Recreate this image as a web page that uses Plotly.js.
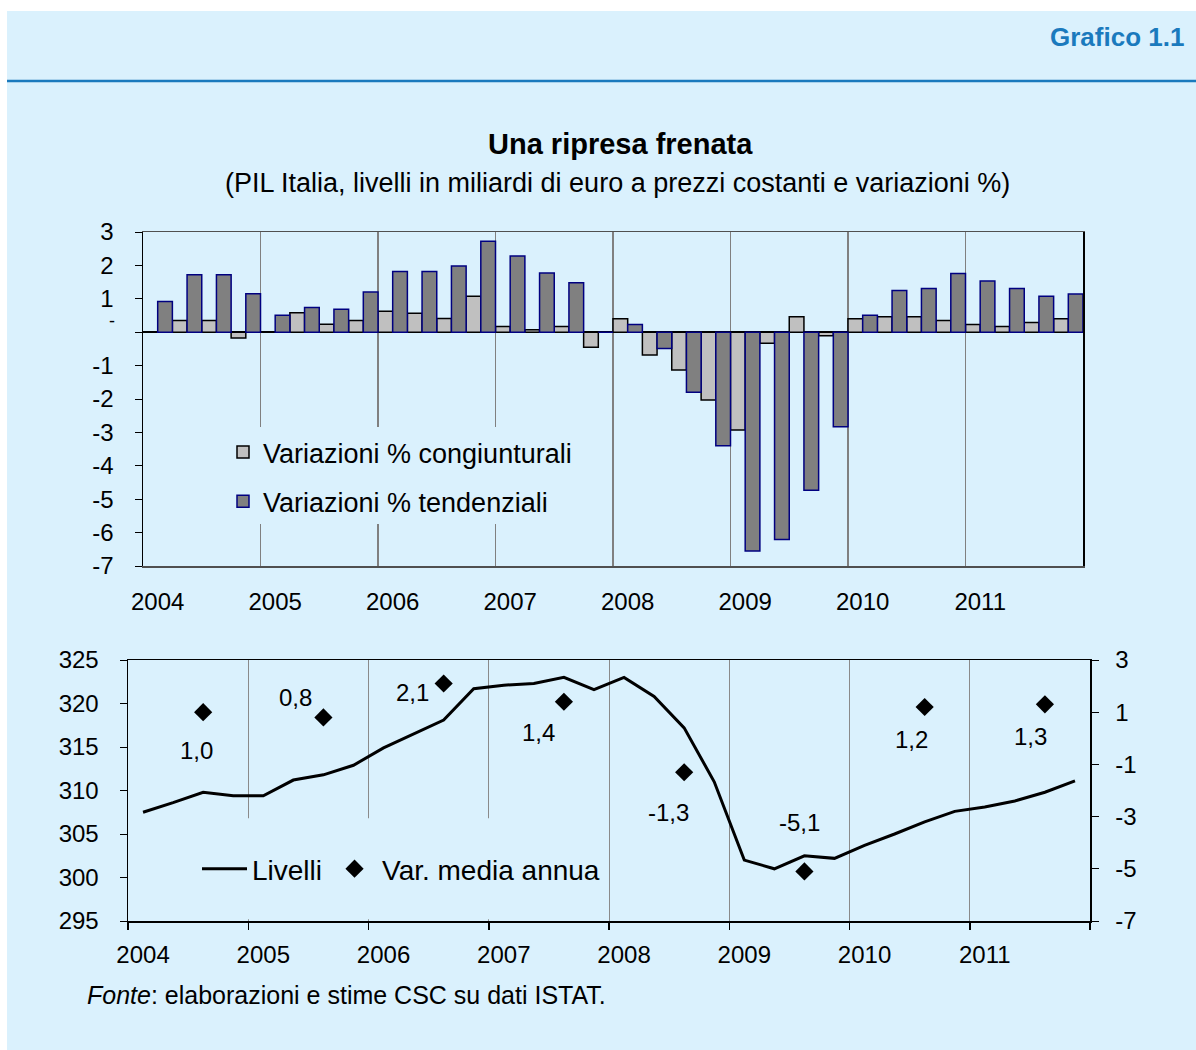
<!DOCTYPE html>
<html><head><meta charset="utf-8">
<script src="https://cdn.plot.ly/plotly-3.0.1.min.js"></script>
<style>
html,body{margin:0;padding:0;background:#ffffff;}
#bg{position:absolute;left:7px;top:11px;width:1189px;height:1039px;background:#daf1fd;}
#chart{position:absolute;left:0;top:0;width:1196px;height:1050px;}
</style></head><body>
<div id="bg"></div><div id="chart"></div>
<script>
// ---- data ----
const years = ['2004','2005','2006','2007','2008','2009','2010','2011'];
// quarterly % change on previous quarter (congiunturali)
const congiunturali = [null,0.35,0.35,-0.17, 0,0.58,0.24,0.35, 0.63,0.57,0.41,1.08, 0.17,0.07,0.17,-0.45,
                       0.40,-0.68,-1.13,-2.03, -2.93,-0.33,0.46,-0.11, 0.40,0.46,0.46,0.35, 0.23,0.17,0.29,0.40];
// quarterly % change on same quarter of previous year (tendenziali)
const tendenziali = [0.92,1.72,1.72,1.15, 0.51,0.74,0.69,1.20, 1.82,1.82,1.98,2.72, 2.28,1.77,1.48,0,
                     0.23,-0.49,-1.80,-3.40, -6.55,-6.21,-4.73,-2.83, 0.51,1.25,1.31,1.76, 1.53,1.31,1.08,1.14];
// GDP levels, billions of euro at constant prices
const livelli = [307.5,308.6,309.8,309.4, 309.4,311.2,311.8,312.9, 314.9,316.5,318.1,321.7, 322.1,322.3,323.0,321.6,
                 323.0,320.8,317.2,311.0, 302.0,301.0,302.5,302.2, 303.7,305.0,306.4,307.6, 308.1,308.8,309.8,311.1];
// annual average % change
const varMediaAnnua = [1.0,0.8,2.1,1.4,-1.3,-5.1,1.2,1.3];
const topTickVals = [3,2,1,0,-1,-2,-3,-4,-5,-6,-7];
const rightTickVals = [3,1,-1,-3,-5,-7];
const leftTickVals = [325,320,315,310,305,300,295];

// ---- helpers ----
const W = 1196, H = 1050;
const fx = p => p / W, fy = p => 1 - p / H;
const FONT = 'Liberation Sans, Arial, sans-serif';
const BG = '#daf1fd';
const Q = congiunturali.length;
const qIdx = congiunturali.map((_, i) => i);           // quarter slots
const yearStart = years.map((_, k) => k * 4);           // first quarter of each year
const yearBounds = years.map((_, k) => k * 4 - 0.5).concat([Q - 0.5]);
const q3Idx = years.map((_, k) => k * 4 + 2);           // annual average plotted at Q3
const fmt = v => v.toFixed(1).replace('.', ',');
const labelShift = [[-7,-38],[-28,20],[-31,-9],[-25,-31],[-16,-40],[-5,49],[-13,-33],[-14,-32]];

const traces = [
  {type:'bar', name:'Variazioni % congiunturali', x:qIdx, y:congiunturali, xaxis:'x', yaxis:'y',
   marker:{color:'#c0c0c0', line:{color:'#000000', width:1.5}}, legend:'legend', legendgroup:'a'},
  {type:'bar', name:'Variazioni % tendenziali', x:qIdx, y:tendenziali, xaxis:'x', yaxis:'y',
   marker:{color:'#808080', line:{color:'#000080', width:1.5}}, legend:'legend', legendgroup:'b'},
  {type:'scatter', mode:'lines', name:'Livelli', x:qIdx, y:livelli, xaxis:'x2', yaxis:'y2',
   line:{color:'#000000', width:3}, legend:'legend2'},
  {type:'scatter', mode:'markers', name:'Var. media annua', x:q3Idx, y:varMediaAnnua, xaxis:'x2', yaxis:'y3',
   marker:{symbol:'diamond', size:14, color:'#000000'}, legend:'legend2'}
];

const tickFont = {family:FONT, size:24, color:'#000'};
const annotations = [
  {text:'<b>Grafico 1.1</b>', xref:'paper', yref:'paper', x:fx(1186), y:fy(37), xanchor:'right', yanchor:'middle',
   showarrow:false, font:{family:FONT, size:26, color:'#1a7abd'}},
  {text:'<b>Una ripresa frenata</b>', xref:'paper', yref:'paper', x:fx(620), y:fy(144), xanchor:'center', yanchor:'middle',
   showarrow:false, font:{family:FONT, size:29, color:'#000'}},
  {text:'(PIL Italia, livelli in miliardi di euro a prezzi costanti e variazioni %)', xref:'paper', yref:'paper',
   x:fx(617), y:fy(183), xanchor:'center', yanchor:'middle', showarrow:false, font:{family:FONT, size:27, color:'#000'}},
  {text:'-', xref:'paper', yref:'y', x:fx(112), y:0, yshift:11, xanchor:'center', yanchor:'middle',
   showarrow:false, font:{family:FONT, size:18, color:'#000'}},
  {text:'<i>Fonte</i>: elaborazioni e stime CSC su dati ISTAT.', xref:'paper', yref:'paper', x:fx(85), y:fy(995),
   xanchor:'left', yanchor:'middle', showarrow:false, font:{family:FONT, size:25, color:'#000'}}
];
varMediaAnnua.forEach((v, k) => {
  annotations.push({text:fmt(v), xref:'x2', yref:'y3', x:q3Idx[k], y:v, xshift:labelShift[k][0], yshift:labelShift[k][1],
    showarrow:false, xanchor:'center', yanchor:'middle', font:{family:FONT, size:24, color:'#000'}});
});

const layout = {
  width:W, height:H, margin:{l:0, r:0, t:0, b:0},
  paper_bgcolor:'rgba(0,0,0,0)', plot_bgcolor:'rgba(0,0,0,0)',
  font:{family:FONT, color:'#000'},
  barmode:'group', bargap:0, bargroupgap:0,
  xaxis:{domain:[fx(143), fx(1083)], anchor:'y', range:[-0.5, Q - 0.5], fixedrange:true,
    tickmode:'array', tickvals:yearStart, ticktext:years, ticks:'', showgrid:false, zeroline:false,
    tickfont:tickFont, ticklabelstandoff:14,
    showline:true, linecolor:'#505050', linewidth:1.5, mirror:true,
    minor:{tickmode:'array', tickvals:yearBounds, showgrid:true, gridcolor:'#808080', gridwidth:1.5, ticks:''}},
  yaxis:{domain:[fy(566), fy(232)], anchor:'x', range:[-7, 3], tickmode:'array', tickvals:topTickVals,
    ticktext:topTickVals.map(v => v === 0 ? '' : String(v)), ticks:'outside', ticklen:7, tickcolor:'#000',
    tickfont:tickFont, ticklabelstandoff:16, showgrid:false,
    zeroline:true, zerolinecolor:'#000', zerolinewidth:1.5,
    showline:true, linecolor:'#000', linewidth:1.5, mirror:true},
  xaxis2:{domain:[fx(128), fx(1090)], anchor:'y2', range:[-0.5, Q - 0.5],
    tickmode:'array', tickvals:yearStart, ticktext:years, ticks:'', showgrid:false, zeroline:false,
    tickfont:tickFont, ticklabelstandoff:12,
    showline:true, linecolor:'#000', linewidth:1.5, mirror:true,
    minor:{tickmode:'array', tickvals:yearBounds, showgrid:true, gridcolor:'#8a8a8a', gridwidth:1,
      ticks:'outside', ticklen:7, tickcolor:'#000', tickwidth:1.5}},
  yaxis2:{domain:[fy(921), fy(660)], anchor:'x2', range:[295, 325], tickmode:'array', tickvals:leftTickVals,
    ticks:'outside', ticklen:7, tickcolor:'#000', tickfont:tickFont, ticklabelstandoff:16, showgrid:false,
    zeroline:false, showline:true, linecolor:'#000', linewidth:1.5},
  yaxis3:{overlaying:'y2', side:'right', anchor:'x2', range:[-7, 3], tickmode:'array', tickvals:rightTickVals,
    ticktext:rightTickVals.map(String), ticks:'outside', ticklen:7, tickcolor:'#000', tickfont:tickFont,
    ticklabelstandoff:12, showgrid:false, zeroline:false, showline:true, linecolor:'#000', linewidth:1.5},
  legend:{x:fx(223), y:fy(428), xanchor:'left', yanchor:'top', orientation:'v', bgcolor:'rgba(0,0,0,0)',
    traceorder:'grouped', tracegroupgap:11, font:{family:FONT, size:27, color:'#000'}},
  legend2:{x:fx(197), y:fy(869), xanchor:'left', yanchor:'middle', orientation:'h', bgcolor:'rgba(0,0,0,0)',
    itemwidth:45, font:{family:FONT, size:28, color:'#000'}},
  shapes:[
    {type:'line', xref:'paper', yref:'paper', x0:fx(7), x1:1, y0:fy(81), y1:fy(81), line:{color:'#1a7abd', width:2.5}},
    // background masks behind the legends (hide gridlines there)
    {type:'rect', xref:'x', yref:'y', x0:-0.4, x1:15.05, y0:-5.74, y1:-2.84, layer:'between',
     fillcolor:BG, line:{width:0}},
    {type:'rect', xref:'x2', yref:'y2', x0:-0.4, x1:15.4, y0:295.2, y1:306.8, layer:'between',
     fillcolor:BG, line:{width:0}}
  ],
  annotations:annotations,
  showlegend:true
};
Plotly.newPlot('chart', traces, layout, {displayModeBar:false, staticPlot:true});
</script>
</body></html>
